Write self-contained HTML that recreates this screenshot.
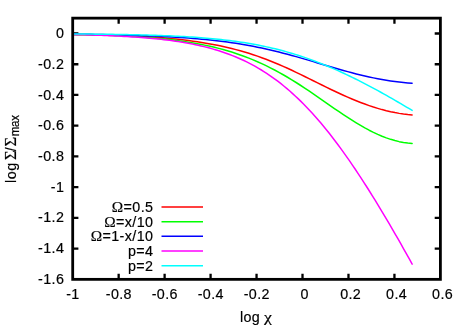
<!DOCTYPE html>
<html><head><meta charset="utf-8"><title>plot</title>
<style>
html,body{margin:0;padding:0;background:#fff;}
svg{display:block;will-change:transform;}
.g{font-family:"Liberation Serif",serif;}
text .o{font-size:15.3px;}
text{font-family:"Liberation Sans",sans-serif;font-size:14.3px;fill:#000;stroke:#000;stroke-width:0.18px;}
</style></head><body>
<svg width="467" height="327" viewBox="0 0 467 327">
<rect x="0" y="0" width="467" height="327" fill="#fff"/>

<g stroke="#000" stroke-width="2.3" fill="none">
<path d="M72.70,33.51h5.70 M440.40,33.51h-5.70"/>
<path d="M72.70,64.24h5.70 M440.40,64.24h-5.70"/>
<path d="M72.70,94.97h5.70 M440.40,94.97h-5.70"/>
<path d="M72.70,125.70h5.70 M440.40,125.70h-5.70"/>
<path d="M72.70,156.43h5.70 M440.40,156.43h-5.70"/>
<path d="M72.70,187.16h5.70 M440.40,187.16h-5.70"/>
<path d="M72.70,217.89h5.70 M440.40,217.89h-5.70"/>
<path d="M72.70,248.62h5.70 M440.40,248.62h-5.70"/>
<path d="M118.66,279.35v-5.70 M118.66,18.15v5.70"/>
<path d="M164.62,279.35v-5.70 M164.62,18.15v5.70"/>
<path d="M210.59,279.35v-5.70 M210.59,18.15v5.70"/>
<path d="M256.55,279.35v-5.70 M256.55,18.15v5.70"/>
<path d="M302.51,279.35v-5.70 M302.51,18.15v5.70"/>
<path d="M348.48,279.35v-5.70 M348.48,18.15v5.70"/>
<path d="M394.44,279.35v-5.70 M394.44,18.15v5.70"/>
</g>
<g fill="none" stroke-width="1.5" stroke-linecap="round" stroke-linejoin="round">
<path d="M72.70,34.41 L77.00,34.43 L81.29,34.46 L85.59,34.50 L89.88,34.56 L94.18,34.63 L98.48,34.71 L102.77,34.81 L107.07,34.92 L111.37,35.04 L115.66,35.18 L119.96,35.33 L124.25,35.50 L128.55,35.69 L132.85,35.89 L137.14,36.11 L141.44,36.35 L145.74,36.61 L150.03,36.89 L154.33,37.19 L158.62,37.52 L162.92,37.87 L167.22,38.25 L171.51,38.65 L175.81,39.09 L180.11,39.56 L184.40,40.06 L188.70,40.60 L192.99,41.18 L197.29,41.79 L201.59,42.46 L205.88,43.16 L210.18,43.92 L214.47,44.72 L218.77,45.58 L223.07,46.50 L227.36,47.47 L231.66,48.51 L235.96,49.61 L240.25,50.78 L244.55,52.01 L248.84,53.32 L253.14,54.69 L257.44,56.15 L261.73,57.67 L266.03,59.27 L270.33,60.94 L274.62,62.68 L278.92,64.48 L283.21,66.36 L287.51,68.29 L291.81,70.27 L296.10,72.31 L300.40,74.38 L304.69,76.49 L308.99,78.61 L313.29,80.75 L317.58,82.88 L321.88,85.01 L326.18,87.12 L330.47,89.21 L334.77,91.26 L339.06,93.27 L343.36,95.23 L347.66,97.13 L351.95,98.98 L356.25,100.76 L360.55,102.45 L364.84,104.07 L369.14,105.60 L373.43,107.04 L377.73,108.37 L382.03,109.60 L386.32,110.71 L390.62,111.71 L394.92,112.60 L399.21,113.38 L403.51,114.04 L407.80,114.59 L412.10,115.03" stroke="#ff0000"/>
<path d="M72.70,34.62 L77.00,34.67 L81.29,34.73 L85.59,34.80 L89.88,34.88 L94.18,34.97 L98.48,35.08 L102.77,35.20 L107.07,35.33 L111.37,35.48 L115.66,35.65 L119.96,35.83 L124.25,36.03 L128.55,36.25 L132.85,36.49 L137.14,36.75 L141.44,37.03 L145.74,37.34 L150.03,37.68 L154.33,38.04 L158.62,38.43 L162.92,38.85 L167.22,39.31 L171.51,39.80 L175.81,40.33 L180.11,40.91 L184.40,41.52 L188.70,42.19 L192.99,42.90 L197.29,43.66 L201.59,44.48 L205.88,45.36 L210.18,46.30 L214.47,47.31 L218.77,48.39 L223.07,49.53 L227.36,50.76 L231.66,52.06 L235.96,53.45 L240.25,54.92 L244.55,56.48 L248.84,58.13 L253.14,59.87 L257.44,61.71 L261.73,63.64 L266.03,65.67 L270.33,67.80 L274.62,70.02 L278.92,72.34 L283.21,74.75 L287.51,77.25 L291.81,79.84 L296.10,82.50 L300.40,85.25 L304.69,88.06 L308.99,90.93 L313.29,93.85 L317.58,96.81 L321.88,99.80 L326.18,102.79 L330.47,105.79 L334.77,108.77 L339.06,111.72 L343.36,114.62 L347.66,117.46 L351.95,120.22 L356.25,122.89 L360.55,125.45 L364.84,127.90 L369.14,130.21 L373.43,132.37 L377.73,134.38 L382.03,136.22 L386.32,137.87 L390.62,139.34 L394.92,140.59 L399.21,141.64 L403.51,142.47 L407.80,143.07 L412.10,143.43" stroke="#00ff00"/>
<path d="M72.70,34.03 L77.00,34.10 L81.29,34.18 L85.59,34.26 L89.88,34.34 L94.18,34.42 L98.48,34.51 L102.77,34.59 L107.07,34.69 L111.37,34.78 L115.66,34.88 L119.96,34.99 L124.25,35.10 L128.55,35.22 L132.85,35.35 L137.14,35.48 L141.44,35.63 L145.74,35.78 L150.03,35.94 L154.33,36.12 L158.62,36.31 L162.92,36.51 L167.22,36.72 L171.51,36.96 L175.81,37.21 L180.11,37.48 L184.40,37.77 L188.70,38.08 L192.99,38.41 L197.29,38.77 L201.59,39.15 L205.88,39.56 L210.18,40.00 L214.47,40.47 L218.77,40.98 L223.07,41.51 L227.36,42.09 L231.66,42.70 L235.96,43.34 L240.25,44.03 L244.55,44.76 L248.84,45.53 L253.14,46.34 L257.44,47.19 L261.73,48.08 L266.03,49.02 L270.33,49.99 L274.62,51.01 L278.92,52.07 L283.21,53.16 L287.51,54.29 L291.81,55.45 L296.10,56.64 L300.40,57.86 L304.69,59.10 L308.99,60.36 L313.29,61.63 L317.58,62.91 L321.88,64.19 L326.18,65.47 L330.47,66.74 L334.77,68.00 L339.06,69.24 L343.36,70.45 L347.66,71.64 L351.95,72.79 L356.25,73.90 L360.55,74.96 L364.84,75.98 L369.14,76.95 L373.43,77.86 L377.73,78.71 L382.03,79.50 L386.32,80.23 L390.62,80.89 L394.92,81.50 L399.21,82.04 L403.51,82.51 L407.80,82.93 L412.10,83.29" stroke="#0000ff"/>
<path d="M72.70,34.61 L75.55,34.67 L78.41,34.73 L81.26,34.80 L84.11,34.86 L86.96,34.94 L89.82,35.02 L92.67,35.10 L95.52,35.18 L98.37,35.28 L101.23,35.37 L104.08,35.47 L106.93,35.58 L109.78,35.70 L112.64,35.82 L115.49,35.95 L118.34,36.08 L121.19,36.23 L124.05,36.38 L126.90,36.54 L129.75,36.71 L132.60,36.89 L135.46,37.07 L138.31,37.27 L141.16,37.49 L144.02,37.71 L146.87,37.94 L149.72,38.19 L152.57,38.46 L155.43,38.73 L158.28,39.03 L161.13,39.34 L163.98,39.66 L166.84,40.01 L169.69,40.37 L172.54,40.75 L175.39,41.16 L178.25,41.59 L181.10,42.04 L183.95,42.51 L186.80,43.01 L189.66,43.54 L192.51,44.09 L195.36,44.67 L198.21,45.29 L201.07,45.93 L203.92,46.61 L206.77,47.33 L209.63,48.08 L212.48,48.87 L215.33,49.70 L218.18,50.57 L221.04,51.48 L223.89,52.44 L226.74,53.44 L229.59,54.49 L232.45,55.60 L235.30,56.75 L238.15,57.96 L241.00,59.22 L243.86,60.54 L246.71,61.92 L249.56,63.36 L252.41,64.86 L255.27,66.43 L258.12,68.06 L260.97,69.76 L263.83,71.53 L266.68,73.37 L269.53,75.29 L272.38,77.27 L275.24,79.33 L278.09,81.47 L280.94,83.68 L283.79,85.97 L286.65,88.34 L289.50,90.79 L292.35,93.32 L295.20,95.93 L298.06,98.62 L300.91,101.40 L303.76,104.25 L306.61,107.19 L309.47,110.21 L312.32,113.31 L315.17,116.49 L318.02,119.75 L320.88,123.10 L323.73,126.52 L326.58,130.02 L329.44,133.59 L332.29,137.24 L335.14,140.97 L337.99,144.77 L340.85,148.64 L343.70,152.59 L346.55,156.60 L349.40,160.68 L352.26,164.83 L355.11,169.04 L357.96,173.31 L360.81,177.65 L363.67,182.04 L366.52,186.49 L369.37,191.00 L372.22,195.56 L375.08,200.17 L377.93,204.84 L380.78,209.55 L383.63,214.31 L386.49,219.11 L389.34,223.95 L392.19,228.84 L395.05,233.77 L397.90,238.74 L400.75,243.74 L403.60,248.78 L406.46,253.85 L409.31,258.95 L412.16,264.09" stroke="#ff00ff"/>
<path d="M72.70,33.95 L75.55,33.97 L78.41,33.99 L81.26,34.01 L84.11,34.03 L86.96,34.06 L89.82,34.08 L92.67,34.11 L95.52,34.14 L98.37,34.17 L101.23,34.20 L104.08,34.23 L106.93,34.27 L109.78,34.31 L112.64,34.35 L115.49,34.39 L118.34,34.44 L121.19,34.48 L124.05,34.54 L126.90,34.59 L129.75,34.65 L132.60,34.70 L135.46,34.77 L138.31,34.83 L141.16,34.90 L144.02,34.98 L146.87,35.06 L149.72,35.14 L152.57,35.23 L155.43,35.32 L158.28,35.42 L161.13,35.52 L163.98,35.63 L166.84,35.75 L169.69,35.87 L172.54,35.99 L175.39,36.13 L178.25,36.27 L181.10,36.42 L183.95,36.58 L186.80,36.75 L189.66,36.92 L192.51,37.11 L195.36,37.30 L198.21,37.51 L201.07,37.72 L203.92,37.95 L206.77,38.19 L209.63,38.44 L212.48,38.70 L215.33,38.98 L218.18,39.27 L221.04,39.57 L223.89,39.89 L226.74,40.22 L229.59,40.57 L232.45,40.94 L235.30,41.33 L238.15,41.73 L241.00,42.15 L243.86,42.59 L246.71,43.05 L249.56,43.53 L252.41,44.03 L255.27,44.55 L258.12,45.10 L260.97,45.66 L263.83,46.25 L266.68,46.87 L269.53,47.50 L272.38,48.17 L275.24,48.85 L278.09,49.57 L280.94,50.30 L283.79,51.07 L286.65,51.86 L289.50,52.67 L292.35,53.52 L295.20,54.39 L298.06,55.28 L300.91,56.21 L303.76,57.16 L306.61,58.14 L309.47,59.15 L312.32,60.18 L315.17,61.24 L318.02,62.33 L320.88,63.44 L323.73,64.58 L326.58,65.75 L329.44,66.94 L332.29,68.16 L335.14,69.40 L337.99,70.67 L340.85,71.96 L343.70,73.27 L346.55,74.61 L349.40,75.97 L352.26,77.35 L355.11,78.76 L357.96,80.18 L360.81,81.63 L363.67,83.09 L366.52,84.57 L369.37,86.08 L372.22,87.60 L375.08,89.13 L377.93,90.69 L380.78,92.26 L383.63,93.84 L386.49,95.45 L389.34,97.06 L392.19,98.69 L395.05,100.33 L397.90,101.99 L400.75,103.66 L403.60,105.34 L406.46,107.03 L409.31,108.73 L412.16,110.44" stroke="#00ffff"/>
</g>
<path d="M161.5,206.90H203" stroke="#ff0000" stroke-width="1.5" fill="none"/>
<text x="153.40" y="211.80" text-anchor="end" letter-spacing="0.4"><tspan class="g o">Ω</tspan>=0.5</text>
<path d="M161.5,221.63H203" stroke="#00ff00" stroke-width="1.5" fill="none"/>
<text x="153.40" y="226.53" text-anchor="end" letter-spacing="0.4"><tspan class="g o">Ω</tspan>=x/10</text>
<path d="M161.5,236.36H203" stroke="#0000ff" stroke-width="1.5" fill="none"/>
<text x="153.40" y="241.26" text-anchor="end" letter-spacing="0.4"><tspan class="g o">Ω</tspan>=1-x/10</text>
<path d="M161.5,251.09H203" stroke="#ff00ff" stroke-width="1.5" fill="none"/>
<text x="153.40" y="255.99" text-anchor="end" letter-spacing="0.4">p=4</text>
<path d="M161.5,265.82H203" stroke="#00ffff" stroke-width="1.5" fill="none"/>
<text x="153.40" y="270.72" text-anchor="end" letter-spacing="0.4">p=2</text>
<rect x="72.70" y="18.15" width="367.70" height="261.20" fill="none" stroke="#000" stroke-width="2.8"/>
<text x="64.30" y="38.00" text-anchor="end" letter-spacing="0.4">0</text>
<text x="64.30" y="69.00" text-anchor="end" letter-spacing="0.4">-0.2</text>
<text x="64.30" y="100.00" text-anchor="end" letter-spacing="0.4">-0.4</text>
<text x="64.30" y="130.00" text-anchor="end" letter-spacing="0.4">-0.6</text>
<text x="64.30" y="161.00" text-anchor="end" letter-spacing="0.4">-0.8</text>
<text x="64.30" y="192.00" text-anchor="end" letter-spacing="0.4">-1</text>
<text x="64.30" y="222.00" text-anchor="end" letter-spacing="0.4">-1.2</text>
<text x="64.30" y="253.00" text-anchor="end" letter-spacing="0.4">-1.4</text>
<text x="64.30" y="284.00" text-anchor="end" letter-spacing="0.4">-1.6</text>
<text x="72.90" y="299.00" text-anchor="middle" letter-spacing="0.4">-1</text>
<text x="118.86" y="299.00" text-anchor="middle" letter-spacing="0.4">-0.8</text>
<text x="164.82" y="299.00" text-anchor="middle" letter-spacing="0.4">-0.6</text>
<text x="210.79" y="299.00" text-anchor="middle" letter-spacing="0.4">-0.4</text>
<text x="256.75" y="299.00" text-anchor="middle" letter-spacing="0.4">-0.2</text>
<text x="304.71" y="299.00" text-anchor="middle" letter-spacing="0.4">0</text>
<text x="350.68" y="299.00" text-anchor="middle" letter-spacing="0.4">0.2</text>
<text x="396.64" y="299.00" text-anchor="middle" letter-spacing="0.4">0.4</text>
<text x="442.60" y="299.00" text-anchor="middle" letter-spacing="0.4">0.6</text>
<text x="239.90" y="322.00" text-anchor="start" letter-spacing="0.4">log</text>
<text class="g" transform="translate(264.0,322) scale(1.25,1)">χ</text>
<text transform="translate(15.55,182.90) rotate(-90) scale(1,1)" letter-spacing="0.45">log</text>
<text class="g" style="font-size:16.5px" transform="translate(15.55,160.00) rotate(-90) scale(1,1)" letter-spacing="0">Σ</text>
<text transform="translate(15.55,151.20) rotate(-90) scale(1,1)" letter-spacing="0">/</text>
<text class="g" style="font-size:16.5px" transform="translate(15.55,146.60) rotate(-90) scale(1,1)" letter-spacing="0">Σ</text>
<text style="font-size:11.5px" transform="translate(19.15,136.30) rotate(-90) scale(1,1.1)" letter-spacing="-0.15">max</text>
</svg></body></html>
